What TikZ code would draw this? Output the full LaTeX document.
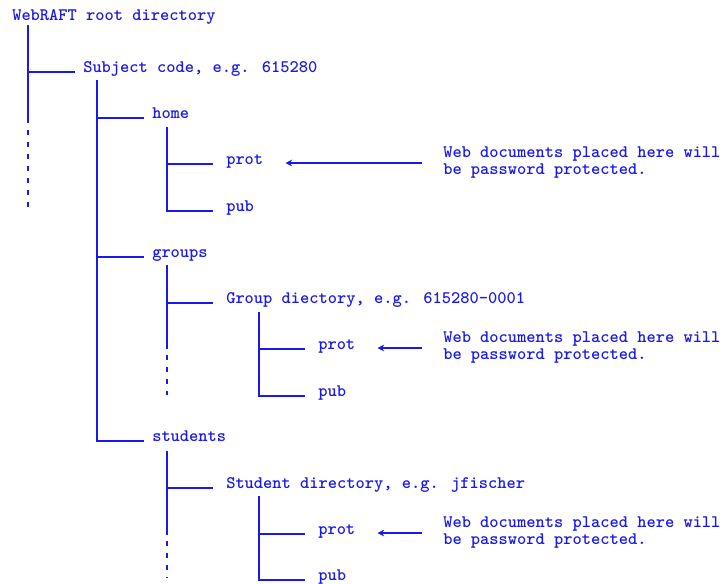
\documentclass[tikz,border=0pt]{standalone}
\usepackage{tikz}
\usetikzlibrary{positioning,calc,arrows.meta}
\definecolor{dirblue}{RGB}{25,25,235}

\tikzset{
    tree/.style={dirblue, line width=0.9pt},
    treedash/.style={tree, dash pattern=on 4pt off 5pt},
    dir/.style={anchor=base west, inner xsep=6pt, inner ysep=0pt, text=dirblue,
        font=\ttfamily\bfseries\fontsize{13.2}{12.75}\selectfont},
    subdir/.style={dir, inner xsep=9.75pt},
    note/.style={anchor=west, align=left, inner xsep=6pt, inner ysep=0pt, text=dirblue,
        font=\ttfamily\bfseries\fontsize{13.2}{12.75}\selectfont},
    pointer/.style={tree, -{Stealth[length=5pt,width=5pt]}, shorten <=9.75pt, shorten >=6.75pt}
}

\begin{document}
\begin{tikzpicture}[x=0.75pt,y=-0.75pt]
            \useasboundingbox (0,0) rectangle (724,583);
            % directories
            \node[dir] (root) at (4,20) {WebRAFT root directory};
            \node[dir] (subj) at (75,72) {Subject code, e.g. 615280};
            \node[dir] (home) at (144,118) {home};
            \node[subdir] (prot1) at (213,164) {prot};
            \node[subdir] (pub1) at (213,211) {pub};
            \node[dir] (groups) at (144,257) {groups};
            \node[subdir] (grpdir) at (213,303) {Group diectory, e.g. 615280-0001};
            \node[subdir] (prot2) at (305,349) {prot};
            \node[subdir] (pub2) at (305,396) {pub};
            \node[dir] (students) at (144,441) {students};
            \node[subdir] (studir) at (213,488) {Student directory, e.g. jfischer};
            \node[subdir] (prot3) at (305,534) {prot};
            \node[subdir] (pub3) at (305,580) {pub};
            % tops of the branch lines
            \coordinate (rootV) at (28,25);
            \coordinate (subjV) at (97,80);
            \coordinate (homeV) at (167,127);
            \coordinate (groupsV) at (167,265);
            \coordinate (grpdirV) at (259,312);
            \coordinate (studentsV) at (167,451);
            \coordinate (studirV) at (259,496);
            % branches
            \draw[tree] (rootV) |- (subj.base west) (rootV) -- ++(0,98);
            \draw[treedash] ($(rootV)+(0,105)$) -- ++(0,80);
            \draw[tree] (subjV) |- (home.base west) (subjV) |- (groups.base west) (subjV) |- (students.base west);
            \draw[tree] (homeV) |- (prot1.base west) (homeV) |- (pub1.base west);
            \draw[tree] (groupsV) |- (grpdir.base west) (groupsV) -- ++(0,84);
            \draw[treedash] ($(groupsV)+(0,90)$) -- ++(0,40);
            \draw[tree] (grpdirV) |- (prot2.base west) (grpdirV) |- (pub2.base west);
            \draw[tree] (studentsV) |- (studir.base west) (studentsV) -- ++(0,84);
            \draw[treedash] ($(studentsV)+(0,90)$) -- ++(0,37);
            \draw[tree] (studirV) |- (prot3.base west) (studirV) |- (pub3.base west);
            % notes
            \node[note] (note1) at (435,163) {Web documents placed here will\\be password protected.};
            \node[note] (note2) at (435,348) {Web documents placed here will\\be password protected.};
            \node[note] (note3) at (435,533) {Web documents placed here will\\be password protected.};
            \draw[pointer] (note1.west) -- (prot1.east |- note1.west);
            \draw[pointer] (note2.west) -- (prot2.east |- note2.west);
            \draw[pointer] (note3.west) -- (prot3.east |- note3.west);
\end{tikzpicture}
\end{document}
